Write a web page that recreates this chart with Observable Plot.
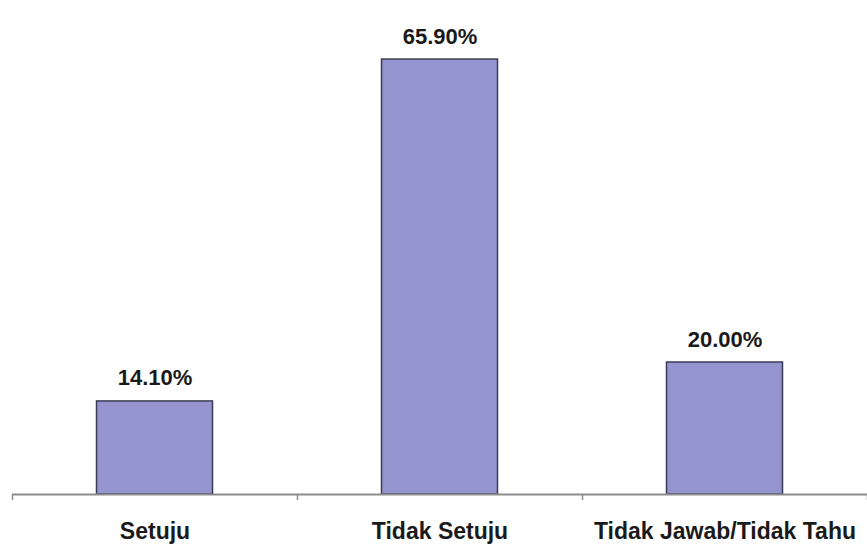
<!DOCTYPE html>
<html>
<head>
<meta charset="utf-8">
<script src="https://cdn.jsdelivr.net/npm/d3@7"></script>
<script src="https://cdn.jsdelivr.net/npm/@observablehq/plot@0.6"></script>
<style>
  html, body { margin: 0; padding: 0; background: #ffffff; }
  #chart svg { display: block; }
</style>
</head>
<body>
<div id="chart"></div>
<script>
const categories = ["Setuju", "Tidak Setuju", "Tidak Jawab/Tidak Tahu"];
const values = [14.1, 65.9, 20.0];
const valueLabels = ["14.10%", "65.90%", "20.00%"];
const boundaryTicks = [0, 1, 2, 3];

const data = categories.map((c, i) => ({i, c, v: values[i], label: valueLabels[i]}));

const chart = Plot.plot({
  width: 867,
  height: 546,
  marginLeft: 12,
  marginRight: 0,
  marginTop: 32,
  marginBottom: 52,
  style: {fontFamily: "'Liberation Sans', Arial, sans-serif", background: "#ffffff"},
  x: {type: "linear", domain: [0, 3], axis: null},
  y: {domain: [0, 70], axis: null},
  marks: [
    Plot.rectY(data, {
      x1: "i",
      x2: d => d.i + 1,
      y1: 0,
      y2: "v",
      insetLeft: 84.5,
      insetRight: 84.5,
      fill: "#9494cf",
      stroke: "#3a3a55",
      strokeWidth: 1.5
    }),
    Plot.ruleY([0], {stroke: "#8c8c8c", strokeWidth: 2}),
    Plot.axisX(boundaryTicks, {tickSize: 6, tickFormat: () => "", label: null, stroke: "#8c8c8c", strokeWidth: 1.5}),
    Plot.text(data, {
      x: d => d.i + 0.5,
      y: 0,
      text: "c",
      lineAnchor: "top",
      dy: 28,
      fontSize: 23,
      fontWeight: "bold",
      fill: "#1a1a1a"
    }),
    Plot.text(data, {
      x: d => d.i + 0.5,
      y: "v",
      text: "label",
      lineAnchor: "bottom",
      dy: -16,
      fontSize: 22,
      fontWeight: "bold",
      fill: "#1a1a1a"
    })
  ]
});
document.getElementById("chart").appendChild(chart);
</script>
</body>
</html>
